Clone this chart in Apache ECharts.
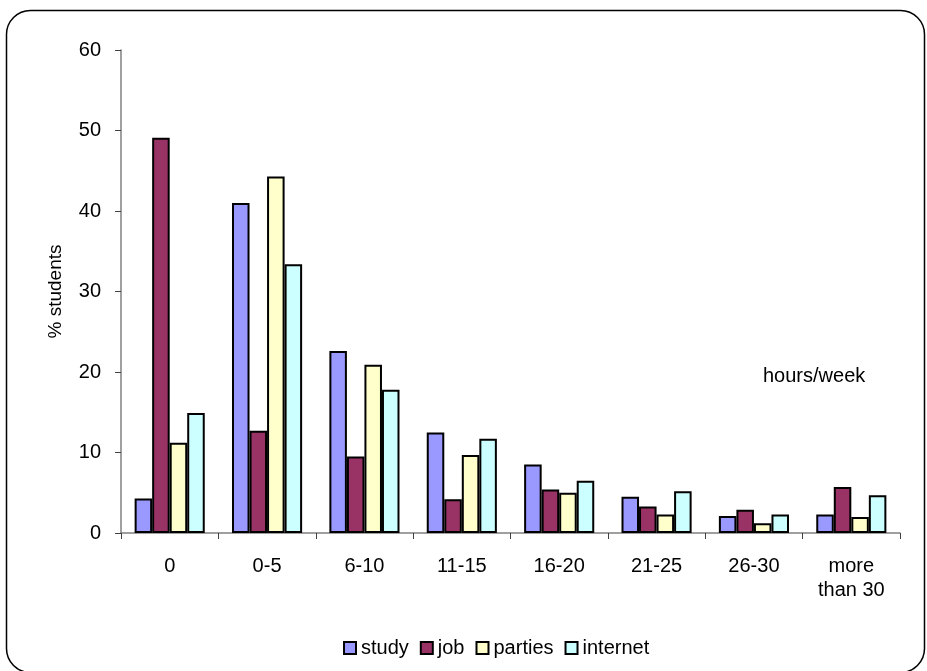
<!DOCTYPE html>
<html>
<head>
<meta charset="utf-8">
<script src="https://cdn.jsdelivr.net/npm/echarts@6/dist/echarts.min.js"></script>
<style>
  html, body { margin: 0; padding: 0; background: #fff; }
  #chart { width: 927px; height: 671px; }
</style>
</head>
<body>
<div id="chart"></div>
<script>
// Weekly hours spent by students on each activity (% of students)
const categories = ['0', '0-5', '6-10', '11-15', '16-20', '21-25', '26-30', 'more\nthan 30'];
const study    = [4.3, 41.0, 22.6, 12.5, 8.5, 4.5, 2.1, 2.3];
const job      = [49.1, 12.7, 9.5, 4.2, 5.4, 3.3, 2.9, 5.7];
const parties  = [11.2, 44.3, 20.9, 9.7, 5.0, 2.3, 1.2, 2.0];
const internet = [14.9, 33.4, 17.8, 11.7, 6.5, 5.2, 2.3, 4.7];
const yTicks = [0, 10, 20, 30, 40, 50, 60];

const FONT = 'Liberation Sans, Arial, sans-serif';

const chart = echarts.init(document.getElementById('chart'), null, { renderer: 'canvas' });

function bar(name, data, color) {
  return {
    name: name,
    type: 'bar',
    data: data,
    barGap: '0%',
    barCategoryGap: '28%',
    itemStyle: { color: color, borderColor: '#000', borderWidth: 2 },
    emphasis: { disabled: true },
    animation: false
  };
}

chart.setOption({
  backgroundColor: '#fff',
  animation: false,
  textStyle: { fontFamily: FONT, color: '#000' },
  grid: { left: 121, right: 27, top: 50, bottom: 138, containLabel: false },
  legend: {
    bottom: 8,
    left: 338,
    itemWidth: 12,
    itemHeight: 12,
    itemGap: 11,
    icon: 'rect',
    textStyle: { fontFamily: FONT, fontSize: 20, color: '#000', padding: [0, 0, 0, 0] },
    data: ['study', 'job', 'parties', 'internet']
  },
  xAxis: {
    type: 'category',
    data: categories,
    axisLine: { lineStyle: { color: '#808080', width: 1.5 } },
    axisTick: { show: true, alignWithLabel: false, length: 6, lineStyle: { color: '#404040' } },
    axisLabel: { fontFamily: FONT, fontSize: 20, color: '#000', margin: 21, lineHeight: 24, interval: 0 }
  },
  yAxis: {
    type: 'value',
    min: yTicks[0],
    max: yTicks[yTicks.length - 1],
    interval: 10,
    name: '% students',
    nameLocation: 'middle',
    nameGap: 56,
    nameTextStyle: { fontFamily: FONT, fontSize: 19, color: '#000' },
    axisLine: { show: true, lineStyle: { color: '#808080', width: 1.5 } },
    axisTick: { show: true, inside: false, length: 6, lineStyle: { color: '#404040' } },
    splitLine: { show: false },
    axisLabel: { fontFamily: FONT, fontSize: 20, color: '#000', margin: 20 }
  },
  graphic: [
    {
      type: 'rect',
      shape: { x: 6.5, y: 10.5, width: 918, height: 662, r: 24 },
      style: { fill: 'none', stroke: '#000', lineWidth: 1.5 },
      silent: true,
      z: 100
    },
    {
      type: 'text',
      left: 763,
      top: 366,
      style: { text: 'hours/week', fontFamily: FONT, fontSize: 20, fill: '#000' },
      silent: true
    }
  ],
  series: [
    bar('study', study, '#9999FF'),
    bar('job', job, '#993366'),
    bar('parties', parties, '#FFFFCC'),
    bar('internet', internet, '#CCFFFF')
  ]
});
</script>
</body>
</html>
